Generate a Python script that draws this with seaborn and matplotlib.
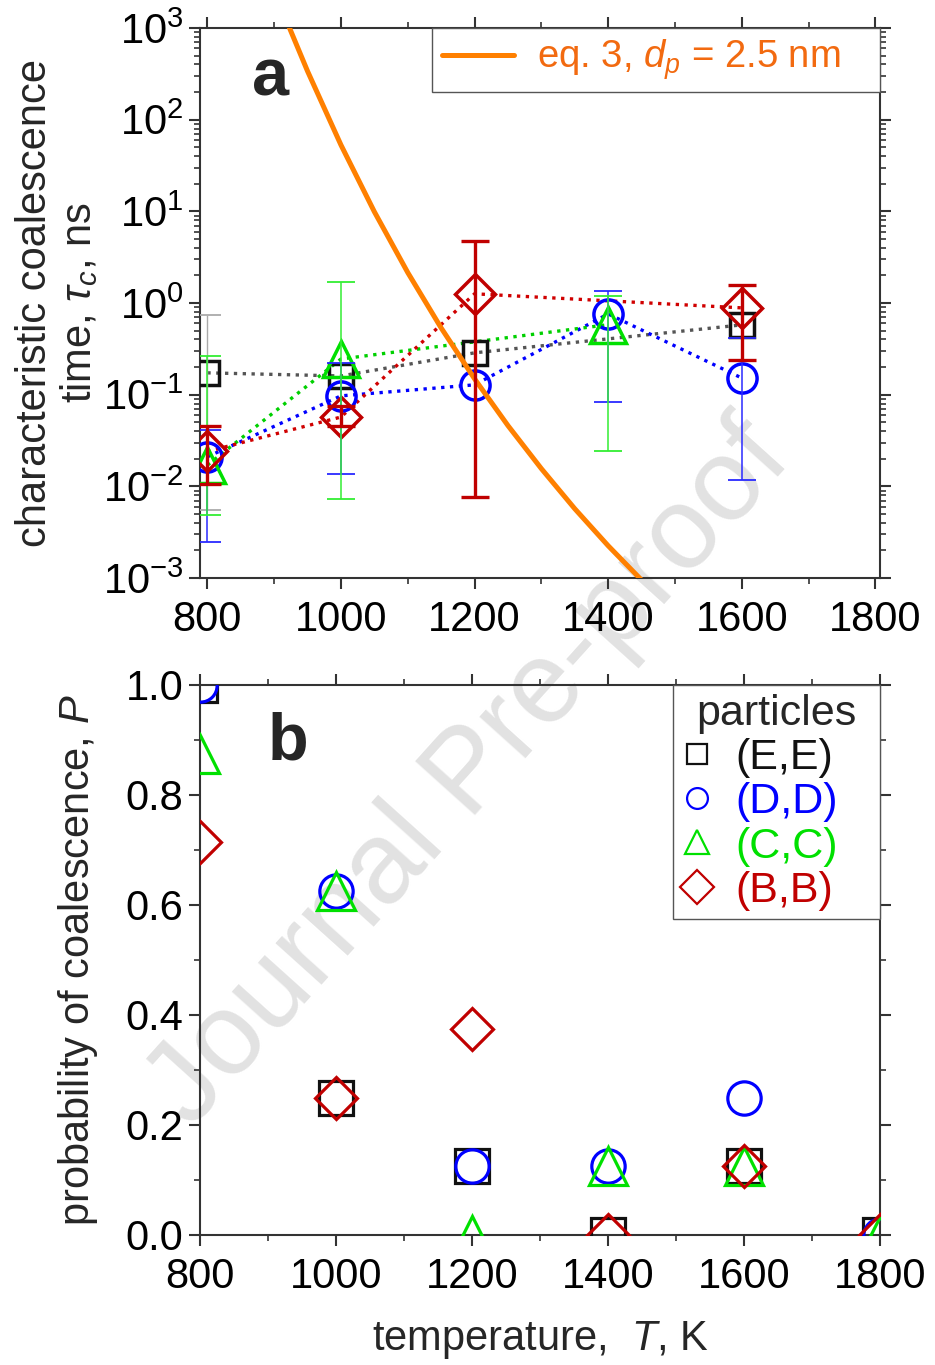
import numpy as np
import pandas as pd
import matplotlib
matplotlib.use("Agg")
import matplotlib.pyplot as plt
import seaborn as sns
from matplotlib.lines import Line2D
from matplotlib.ticker import MultipleLocator, LogLocator, NullFormatter, FormatStrFormatter

nan = np.nan

# ---------------- data ----------------
temps = [800, 1000, 1200, 1400, 1600, 1800]
pair_labels = ["(E,E)", "(D,D)", "(C,C)", "(B,B)"]

# panel a: characteristic coalescence time (ns), NaN = no coalescence event
tau_EE = [0.173, 0.16, 0.286, nan, 0.577, nan]
tau_DD = [0.021, 0.097, 0.128, 0.76, 0.152, nan]
tau_CC = [0.017, 0.245, nan, 0.58, nan, nan]
tau_BB = [0.024, 0.057, 1.26, nan, 0.885, nan]

# error bar bounds (lower, upper)
lo_EE = [0.0055, nan, nan, nan, nan, nan]
hi_EE = [0.74, nan, nan, nan, nan, nan]
lo_DD = [0.0025, 0.0137, nan, 0.084, 0.0116, nan]
hi_DD = [0.041, 0.22, nan, 1.36, 0.41, nan]
lo_CC = [0.0049, 0.0072, nan, 0.024, nan, nan]
hi_CC = [0.265, 1.71, nan, 1.2, nan, nan]
lo_BB = [0.0107, 0.045, 0.0077, nan, 0.24, nan]
hi_BB = [0.046, 0.075, 4.75, nan, 1.57, nan]

# eq. 3 curve
eq3_T = [920, 950, 1000, 1050, 1100, 1150, 1200, 1250, 1300, 1350, 1400, 1450]
eq3_tau = [1130, 338, 53, 9.9, 2.15, 0.535, 0.149, 0.046, 0.0156, 0.0057, 0.00225, 0.00095]

# panel b: probability of coalescence
P_EE = [1.0, 0.25, 0.125, 0.0, 0.125, 0.0]
P_DD = [1.0, 0.625, 0.125, 0.125, 0.25, 0.0]
P_CC = [0.875, 0.625, 0.0, 0.125, 0.125, 0.0]
P_BB = [0.714, 0.25, 0.375, 0.0, 0.125, 0.0]

# ---------------- style ----------------
sns.set_theme(style="ticks")
plt.rcParams["font.family"] = ["Liberation Sans", "DejaVu Sans"]
plt.rcParams["mathtext.fontset"] = "custom"
plt.rcParams["mathtext.rm"] = "Liberation Sans"
plt.rcParams["mathtext.it"] = "Liberation Sans:italic"
plt.rcParams["mathtext.bf"] = "Liberation Sans:bold"
plt.rcParams["axes.unicode_minus"] = False

colors = ["#111111", "#0000ff", "#00e000", "#c00000"]
line_colors = ["#555555", "#0000ff", "#00d000", "#d00000"]
err_colors = ["#aaaaaa", "#2a2aff", "#33ee33", "#c00000"]
err_lw = [1.0, 1.1, 1.1, 2.4]
markers = ["s", "o", "^", "D"]
ms_a = [17, 21, 26, 20]
ms_b = [25, 24, 27, 21.5]

fig = plt.figure(figsize=(9.35, 13.65), dpi=100)
W, H = 935, 1365
ax1 = fig.add_axes([200 / W, 1 - 578 / H, 680 / W, 550 / H])
ax2 = fig.add_axes([200 / W, 1 - 1235 / H, 680 / W, 550 / H])
for ax in (ax1, ax2):
    ax.set_facecolor("none")

# watermark
fig.text(470 / W, 1 - 775 / H, "Journal Pre-proof", rotation=48, rotation_mode="anchor",
         ha="center", va="center", fontsize=84, color="#e2e2e2", zorder=-5)

# ---------------- panel a ----------------
ax1.set_yscale("log")
taus = [tau_EE, tau_DD, tau_CC, tau_BB]
los = [lo_EE, lo_DD, lo_CC, lo_BB]
his = [hi_EE, hi_DD, hi_CC, hi_BB]

for i, (tau, lo, hi) in enumerate(zip(taus, los, his)):
    df = pd.DataFrame({"T": temps, "tau": tau, "lo": lo, "hi": hi})
    d = df.dropna(subset=["tau"])
    sns.lineplot(data=d, x="T", y="tau", ax=ax1, color=line_colors[i], linestyle=":",
                 linewidth=2.4, errorbar=None, legend=False, zorder=2)

for i, (tau, lo, hi) in enumerate(zip(taus, los, his)):
    df = pd.DataFrame({"T": temps, "tau": tau, "lo": lo, "hi": hi})
    d = df.dropna(subset=["tau"])
    sns.lineplot(data=d, x="T", y="tau", ax=ax1, color=colors[i], linestyle="",
                 marker=markers[i], markersize=ms_a[i], markerfacecolor="none",
                 markeredgecolor=colors[i], markeredgewidth=2.5,
                 errorbar=None, legend=False, zorder=3 + 0.1 * i)
    e = df.dropna(subset=["tau", "lo", "hi"])
    if len(e):
        yerr = np.vstack([e["tau"] - e["lo"], e["hi"] - e["tau"]])
        ax1.errorbar(e["T"], e["tau"], yerr=yerr, fmt="none", ecolor=err_colors[i],
                     elinewidth=err_lw[i], capsize=10, capthick=err_lw[i] if i == 3 else 1.3,
                     zorder=4 + 0.1 * i)

eq_df = pd.DataFrame({"T": eq3_T, "tau": eq3_tau})
sns.lineplot(data=eq_df, x="T", y="tau", ax=ax1, color="#ff8000", linewidth=3.6,
             errorbar=None, legend=False, zorder=3.6, sort=False)

ax1.set_xlim(789, 1807)
ax1.set_ylim(1e-3, 1e3)
ax1.xaxis.set_major_locator(MultipleLocator(200))
ax1.xaxis.set_minor_locator(MultipleLocator(100))
ax1.yaxis.set_major_locator(LogLocator(base=10, numticks=20))
ax1.yaxis.set_minor_locator(LogLocator(base=10, subs=np.arange(2, 10), numticks=20))
ax1.yaxis.set_minor_formatter(NullFormatter())
ax1.set_xlabel("")
ax1.set_ylabel("characteristic coalescence\ntime, $\\tau_c$, ns", fontsize=30, linespacing=1.1)
ax1.yaxis.set_label_coords(-0.147, 0.5)

leg1 = ax1.legend(handles=[Line2D([], [], color="#ff8000", lw=3.6)],
                  labels=["eq. 3, $d_p$ = 2.5 nm"], loc="upper left",
                  bbox_to_anchor=((432 - 200) / 680, 0, (880 - 432) / 680, 1.0),
                  mode="expand", borderaxespad=0, fontsize=27.5, frameon=True, fancybox=False,
                  edgecolor="#555555", framealpha=1, borderpad=0.25,
                  handlelength=1.9, handletextpad=0.6)
leg1.get_frame().set_linewidth(1.0)
for t in leg1.get_texts():
    t.set_color("#f26a10")

ax1.text(0.076, 0.878, "a", transform=ax1.transAxes, fontsize=48, fontweight="bold",
         ha="left", va="baseline")

# ---------------- panel b ----------------
Ps = [P_EE, P_DD, P_CC, P_BB]
for i, P in enumerate(Ps):
    d = pd.DataFrame({"T": temps, "P": P})
    sns.lineplot(data=d, x="T", y="P", ax=ax2, color=colors[i], linestyle="",
                 marker=markers[i], markersize=ms_b[i], markerfacecolor="none",
                 markeredgecolor=colors[i], markeredgewidth=2.3,
                 errorbar=None, legend=False, zorder=3 + 0.1 * i)

ax2.set_xlim(800, 1800)
ax2.set_ylim(0, 1.0)
ax2.xaxis.set_major_locator(MultipleLocator(200))
ax2.xaxis.set_minor_locator(MultipleLocator(100))
ax2.yaxis.set_major_locator(MultipleLocator(0.2))
ax2.yaxis.set_minor_locator(MultipleLocator(0.1))
ax2.yaxis.set_major_formatter(FormatStrFormatter("%.1f"))
ax2.set_xlabel("temperature,  $T$, K", fontsize=30)
ax2.xaxis.set_label_coords(0.5, -0.152)
ax2.set_ylabel("probability of coalescence, $P$", fontsize=30)
ax2.yaxis.set_label_coords(-0.147, 0.5)

handles = [Line2D([], [], linestyle="", marker=markers[i], markersize=[15, 15, 17, 17][i],
                  markerfacecolor="none", markeredgecolor=colors[i], markeredgewidth=1.6)
           for i in range(4)]
leg2 = ax2.legend(handles=handles, labels=pair_labels, title="particles", loc="upper left",
                  bbox_to_anchor=((673 - 200) / 680, 0, (880 - 673) / 680, 1.0),
                  mode="expand", borderaxespad=0, fontsize=31, title_fontsize=31,
                  frameon=True, fancybox=False, edgecolor="#555555", framealpha=1,
                  borderpad=0.2, handlelength=0.7, handletextpad=0.55, labelspacing=0.1)
leg2.get_frame().set_linewidth(1.0)
for t, c in zip(leg2.get_texts(), colors):
    t.set_color(c)

ax2.text(0.1, 0.864, "b", transform=ax2.transAxes, fontsize=48, fontweight="bold",
         ha="left", va="baseline")

# ---------------- axes cosmetics ----------------
for ax in (ax1, ax2):
    for s in ax.spines.values():
        s.set_visible(True)
        s.set_color("#333333")
        s.set_linewidth(1.5)
    ax.tick_params(which="both", direction="out", top=True, right=True,
                   labeltop=False, labelright=False, colors="#333333", labelcolor="black")
    ax.tick_params(which="major", length=8, width=1.5, labelsize=30, pad=4)
    ax.tick_params(which="minor", length=4.5, width=1.2)
    ax.tick_params(axis="x", which="major", pad=8)
    ax.grid(False)

fig.savefig("out.png", dpi=100)
